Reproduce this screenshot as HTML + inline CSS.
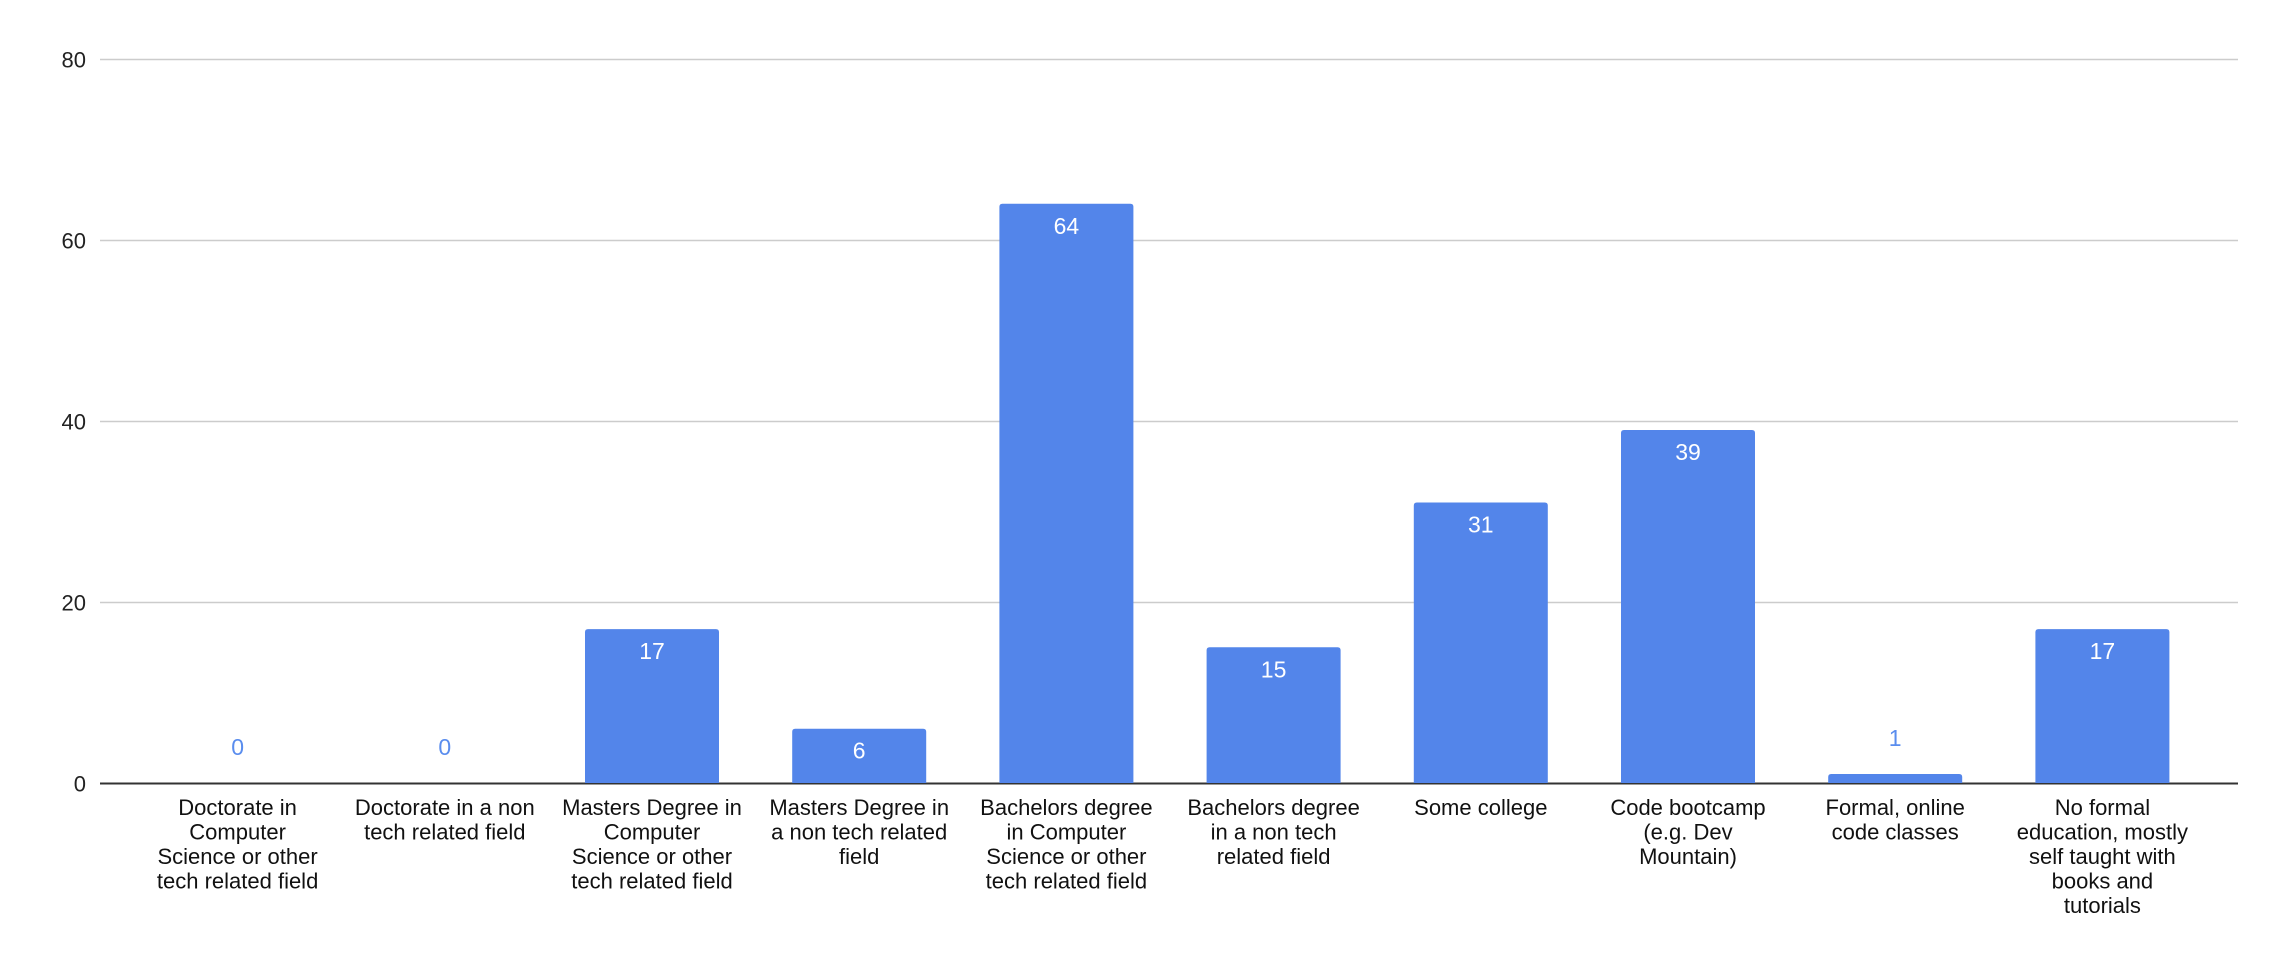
<!DOCTYPE html>
<html><head><meta charset="utf-8"><style>
html,body{margin:0;padding:0;background:#fff;}
svg{display:block;font-family:"Liberation Sans",Arial,sans-serif;}
</style></head><body>
<svg id="chart" width="2288" height="964" viewBox="0 0 2288 964" xmlns="http://www.w3.org/2000/svg">
<g id="grid"></g>
<g id="yticks"></g>
<g id="bars"></g>
<g id="vals"></g>
<g id="xlabels"></g>
</svg>
<script>
const categories = [
 ["Doctorate in","Computer","Science or other","tech related field"],
 ["Doctorate in a non","tech related field"],
 ["Masters Degree in","Computer","Science or other","tech related field"],
 ["Masters Degree in","a non tech related","field"],
 ["Bachelors degree","in Computer","Science or other","tech related field"],
 ["Bachelors degree","in a non tech","related field"],
 ["Some college"],
 ["Code bootcamp","(e.g. Dev","Mountain)"],
 ["Formal, online","code classes"],
 ["No formal","education, mostly","self taught with","books and","tutorials"]
];
const values = [0,0,17,6,64,15,31,39,1,17];
const yTicks = [0,20,40,60,80];

const NS="http://www.w3.org/2000/svg";
const plotL=100, plotR=2238, y0=783, yTop=59, yMax=80;
const bandStart=134, band=207.2, barW=134;
function yScale(v){return y0-(v/yMax)*(y0-yTop);}
function xCenter(i){return bandStart+band*(i+0.5);}
function mk(tag,attrs,parent){const e=document.createElementNS(NS,tag);for(const k in attrs)e.setAttribute(k,attrs[k]);parent.appendChild(e);return e;}

const grid=document.getElementById('grid'), yt=document.getElementById('yticks');
yTicks.forEach(t=>{
  const y=Math.round(yScale(t))+0.5;
  const l=mk('line',{x1:plotL,x2:plotR,y1:y,y2:y,stroke:t===0?'#333':'#ccc','stroke-width':t===0?2:1.5},grid);
  
  
  const tx=mk('text',{x:86,y:y+8,'text-anchor':'end','font-size':22,fill:'#222'},yt);
  tx.textContent=t;
  
  
});

const bars=document.getElementById('bars'), vals=document.getElementById('vals'), xl=document.getElementById('xlabels');
values.forEach((v,i)=>{
  const cx=xCenter(i), top=yScale(v);
  if(v>0){
    const p=mk('path',{d:`M${cx-barW/2},${y0} V${top+3} Q${cx-barW/2},${top} ${cx-barW/2+3},${top} H${cx+barW/2-3} Q${cx+barW/2},${top} ${cx+barW/2},${top+3} V${y0} Z`,fill:'#5385EA'},bars);
    
    
  }
  const inside=(y0-top)>45;
  const t=mk('text',{x:cx,y:inside?top+30:top-28,'text-anchor':'middle','font-size':23,fill:inside?'#fff':'#5A8DEE'},vals);
  t.textContent=v;
  
  
  const g=mk('text',{x:cx,y:815,'text-anchor':'middle','font-size':22,fill:'#111'},xl);
  
  
  categories[i].forEach((line,j)=>{
    const s=mk('tspan',{x:cx,dy:j===0?0:24.5},g);
    s.textContent=line;
  });
});
</script>
</body></html>
